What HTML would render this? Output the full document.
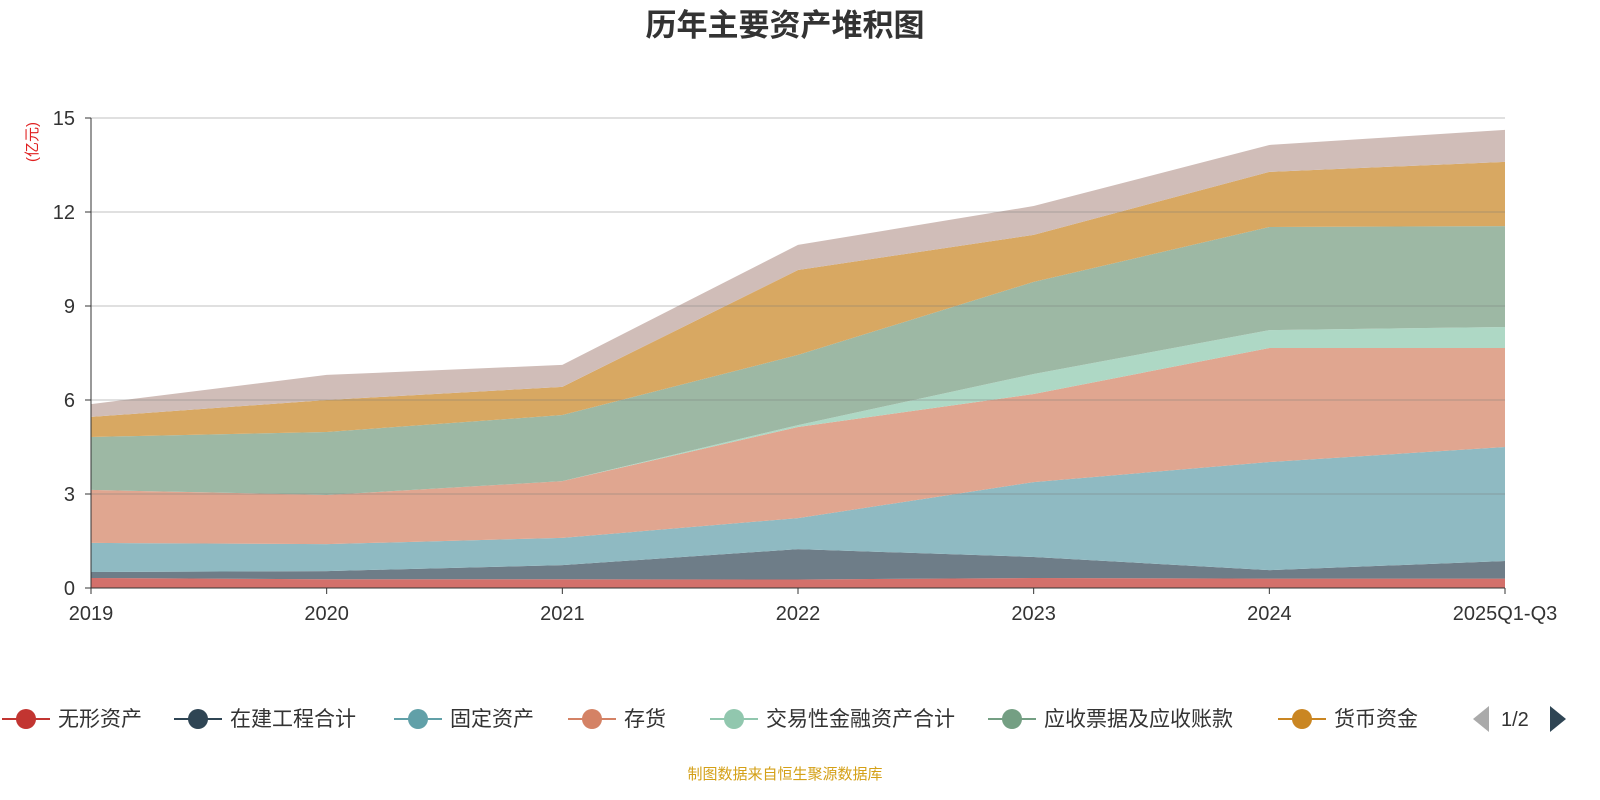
<!DOCTYPE html>
<html><head><meta charset="utf-8"><style>
body{margin:0;background:#fff;font-family:"Liberation Sans","Noto Sans CJK SC",sans-serif;}
#c{position:relative;width:1600px;height:800px;overflow:hidden}
</style></head><body>
<div id="c">
<svg id="s" width="1600" height="800" xmlns="http://www.w3.org/2000/svg" font-family="Liberation Sans, Noto Sans CJK SC, sans-serif">
<text x="785" y="36" text-anchor="middle" font-size="31" font-weight="bold" fill="#333">历年主要资产堆积图</text>
<text transform="translate(37,142) rotate(-90)" text-anchor="middle" font-size="15" fill="#e02020">(亿元)</text>
<g id="areas"></g><g id="grid"></g><g id="axes"></g><g id="legend"></g>
<text x="785" y="779" text-anchor="middle" font-size="15" fill="#d4a017">制图数据来自恒生聚源数据库</text>
</svg>
</div>
<script>
const categories=["2019","2020","2021","2022","2023","2024","2025Q1-Q3"];
const seriesNames=["无形资产","在建工程合计","固定资产","存货","交易性金融资产合计","应收票据及应收账款","货币资金","其他"];
const s_wuxing=[0.32,0.28,0.28,0.27,0.32,0.30,0.30];
const s_zaijian=[0.19,0.26,0.45,0.97,0.67,0.27,0.56];
const s_guding=[0.93,0.86,0.87,0.99,2.39,3.45,3.64];
const s_cunhuo=[1.69,1.57,1.81,2.91,2.81,3.64,3.16];
const s_jiaoyi=[0,0,0,0.06,0.64,0.57,0.67];
const s_yingshou=[1.69,2.01,2.11,2.24,2.94,3.29,3.22];
const s_huobi=[0.64,1.02,0.90,2.71,1.50,1.76,2.05];
const s_qita=[0.41,0.80,0.70,0.80,0.92,0.86,1.02];
const yTicks=[0,3,6,9,12,15];
const series=[s_wuxing,s_zaijian,s_guding,s_cunhuo,s_jiaoyi,s_yingshou,s_huobi,s_qita];
const fills=["#d3706b","#6e7d88","#8fbac2","#e0a690","#aed8c5","#9db8a4","#d8a862","#d0bdb8"];
const legendColors=["#c23531","#2f4554","#61a0a8","#d48265","#91c7ae","#749f83","#ca8622"];
const NS="http://www.w3.org/2000/svg";
const X0=91,X1=1505,Y0=588,Y1=118,YMAX=15;
const xs=i=>X0+(X1-X0)*i/(categories.length-1);
const ys=v=>Y0-(Y0-Y1)*v/YMAX;
function mk(t,a,p){const e=document.createElementNS(NS,t);for(const k in a)e.setAttribute(k,a[k]);p.appendChild(e);return e;}
const grid=document.getElementById('grid'),areas=document.getElementById('areas'),axes=document.getElementById('axes'),leg=document.getElementById('legend');
yTicks.forEach(t=>{
 const l=mk('line',{x1:X0,x2:X1,y1:ys(t),y2:ys(t),stroke:t?'rgba(120,120,120,0.45)':'#333','stroke-width':1},grid);
 
 
 const tx=mk('text',{x:75,y:ys(t)+7,'text-anchor':'end','font-size':20,fill:'#333'},axes);tx.textContent=t;
 
 
 mk('line',{x1:X0-6,x2:X0,y1:ys(t),y2:ys(t),stroke:'#333'},axes);
});
let base=categories.map(()=>0);
series.forEach((s,k)=>{
 const top=base.map((b,i)=>b+s[i]);
 let d='M'+top.map((v,i)=>xs(i)+','+ys(v)).join('L');
 for(let i=categories.length-1;i>=0;i--)d+='L'+xs(i)+','+ys(base[i]);
 const p=mk('path',{d:d+'Z',fill:fills[k]},areas);
 
 
 base=top;
});
mk('line',{x1:X0,x2:X0,y1:Y1,y2:Y0,stroke:'#333'},axes);
mk('line',{x1:X0,x2:X1,y1:Y0,y2:Y0,stroke:'#333'},axes);
categories.forEach((c,i)=>{
 mk('line',{x1:xs(i),x2:xs(i),y1:Y0,y2:Y0+6,stroke:'#333'},axes);
 const t=mk('text',{x:xs(i),y:620,'text-anchor':'middle','font-size':20,fill:'#333'},axes);t.textContent=c;
 
 
});
const lx=[2,174,394,568,710,988,1278];
seriesNames.slice(0,7).forEach((n,k)=>{
 const g=mk('g',{},leg);
 
 
 mk('line',{x1:lx[k],x2:lx[k]+48,y1:719,y2:719,stroke:legendColors[k],'stroke-width':2},g);
 mk('circle',{cx:lx[k]+24,cy:719,r:10,fill:legendColors[k]},g);
 const t=mk('text',{x:lx[k]+56,y:726,'font-size':21,fill:'#333'},g);t.textContent=n;
});
const pg=mk('g',{},leg);


mk('path',{d:'M1489,706L1489,732L1473,719Z',fill:'#aaa'},pg);
const pt=mk('text',{x:1501,y:726,'font-size':20,fill:'#333'},pg);pt.textContent='1/2';
mk('path',{d:'M1550,706L1550,732L1566,719Z',fill:'#2f4554'},pg);
</script>
</body></html>
